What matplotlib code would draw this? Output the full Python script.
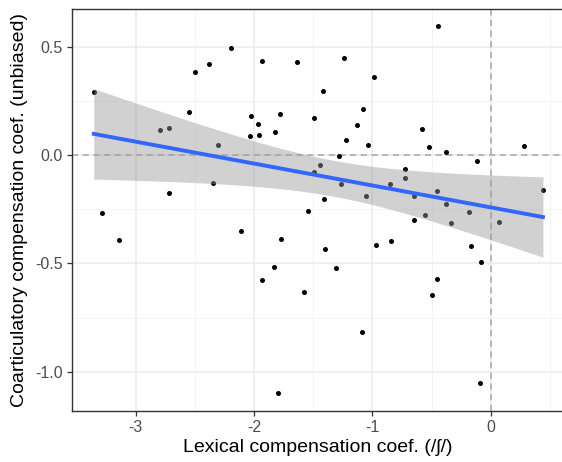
import numpy as np
import matplotlib
matplotlib.use("Agg")
import matplotlib.pyplot as plt

plt.rcParams['font.family'] = ['Liberation Sans', 'DejaVu Sans']

# lexical compensation coef. (x) and coarticulatory compensation coef. (y)
lex = [-3.356, -2.192, -2.384, -2.496, -1.936, -1.637, -2.553, -2.792, -2.719,
       -2.029, -1.964, -2.031, -1.955, -1.820, -1.781, -1.496, -2.305, -2.347,
       -2.716, -1.496, -0.442, -1.240, -0.989, -1.414, -1.076, -1.133, -1.223,
       -1.037, -0.577, -0.521, -0.374, 0.279, -1.282, -1.440, -0.113, -0.724,
       -0.724, -0.854, -1.262, -0.454, -0.645, -1.051, -1.409, -0.380, 0.442,
       -1.547, -0.183, -0.558, -0.648, -0.332, 0.070, -0.845, -0.966, -1.403,
       -0.169, -0.079, -1.310, -1.581, -0.451, -0.499, -1.088, -0.090, -3.286,
       -3.139, -2.113, -1.775, -1.832, -1.930, -1.795]
coart = [0.288, 0.491, 0.420, 0.383, 0.434, 0.427, 0.196, 0.113, 0.122,
         0.181, 0.144, 0.089, 0.093, 0.106, 0.187, 0.168, 0.048, -0.130,
         -0.176, -0.079, 0.596, 0.449, 0.361, 0.296, 0.211, 0.137, 0.068,
         0.046, 0.119, 0.037, 0.012, 0.042, -0.006, -0.048, -0.026, -0.065,
         -0.106, -0.133, -0.136, -0.165, -0.190, -0.190, -0.205, -0.225, -0.160,
         -0.259, -0.262, -0.276, -0.298, -0.313, -0.310, -0.397, -0.417, -0.432,
         -0.420, -0.492, -0.520, -0.630, -0.574, -0.645, -0.818, -1.051, -0.270,
         -0.392, -0.349, -0.389, -0.515, -0.576, -1.100]

x = np.array(lex)
y = np.array(coart)
n = len(x)

# linear fit + 95% CI (like geom_smooth(method = "lm"))
b, a = np.polyfit(x, y, 1)
resid = y - (a + b * x)
s = np.sqrt(np.sum(resid ** 2) / (n - 2))
xs = np.linspace(x.min(), x.max(), 100)
ys = a + b * xs
se = s * np.sqrt(1 / n + (xs - x.mean()) ** 2 / np.sum((x - x.mean()) ** 2))
tq = 1.996
lo, hi = ys - tq * se, ys + tq * se

fig = plt.figure(figsize=(5.62, 4.62), dpi=100)
ax = fig.add_axes([72 / 562, 51 / 462, 492 / 562, 402 / 462])

ax.set_xlim(-3.54, 0.62)
ax.set_ylim(-1.181, 0.673)
ax.set_xticks([-3, -2, -1, 0])
ax.set_xticks([-3.5, -2.5, -1.5, -0.5, 0.5], minor=True)
ax.set_yticks([-1.0, -0.5, 0.0, 0.5])
ax.set_yticks([-0.75, -0.25, 0.25], minor=True)
ax.set_yticklabels(['-1.0', '-0.5', '0.0', '0.5'])
ax.set_xticklabels(['-3', '-2', '-1', '0'])

ax.grid(which='major', color='#EBEBEB', linewidth=1.1, zorder=0)
ax.grid(which='minor', color='#F2F2F2', linewidth=0.6, zorder=0)
ax.set_axisbelow(True)

ax.axhline(0, color='#A6A6A6', linestyle=(0, (4, 3)), linewidth=1.1, zorder=1)
ax.axvline(0, color='#A6A6A6', linestyle=(0, (4, 3)), linewidth=1.1, zorder=1)

ax.scatter(x, y, s=13, color='black', zorder=2, linewidths=0)
ax.fill_between(xs, lo, hi, color='#999999', alpha=0.45, linewidth=0, zorder=3)
ax.plot(xs, ys, color='#3366FF', linewidth=2.8, zorder=4)

for sp in ax.spines.values():
    sp.set_color('#333333')
    sp.set_linewidth(1.0)

ax.tick_params(which='major', length=3.5, width=0.9, color='#333333',
               labelsize=11.5, labelcolor='#4D4D4D', pad=3)
ax.tick_params(which='minor', length=0)

ax.set_xlabel('Lexical compensation coef. (/ʃ/)', fontsize=14, color='black', labelpad=3)
ax.set_ylabel('Coarticulatory compensation coef. (unbiased)', fontsize=14,
              color='black', labelpad=5)

fig.savefig('out.png', dpi=100)
